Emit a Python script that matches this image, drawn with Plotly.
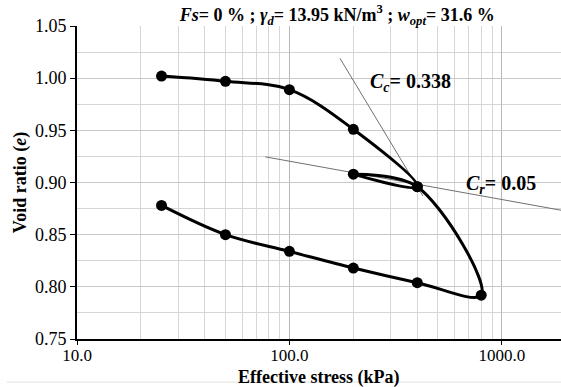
import math
import plotly.graph_objects as go

# Oedometer test sequence: load, unload-reload loop, load, full unload
stress_kpa = [25, 50, 100, 200, 400, 200, 400, 800, 400, 200, 100, 50, 25]
void_ratio = [1.002, 0.997, 0.989, 0.951, 0.896, 0.908, 0.896, 0.792,
              0.804, 0.818, 0.834, 0.850, 0.878]

# Compression index construction line (anchor, slope, extent)
cc_value = 0.338
cc_anchor = (400, 0.896)
cc_stress = [173, 425]

# Recompression construction line end points
cr_stress = [77, 1904]
cr_void = [0.9246, 0.8734]

x_tickvals = [10, 100, 1000]
x_ticktext = ["10.0", "100.0", "1000.0"]

cc_void = [cc_anchor[1] - cc_value * (math.log10(s) - math.log10(cc_anchor[0]))
           for s in cc_stress]

serif = "Liberation Serif, Times New Roman, serif"

fig = go.Figure()
fig.add_trace(go.Scatter(x=cc_stress, y=cc_void, mode="lines",
                         line=dict(color="#707070", width=1), hoverinfo="skip"))
fig.add_trace(go.Scatter(x=cr_stress, y=cr_void, mode="lines",
                         line=dict(color="#707070", width=1), hoverinfo="skip"))
fig.add_trace(go.Scatter(x=stress_kpa, y=void_ratio, mode="lines+markers",
                         line=dict(color="black", width=3, shape="spline", smoothing=1),
                         marker=dict(color="black", size=11)))

fig.update_layout(
    width=561, height=387,
    margin=dict(l=77, r=0, t=26, b=48),
    paper_bgcolor="white", plot_bgcolor="white",
    showlegend=False,
    font=dict(family=serif, color="black", size=18),
    title=dict(
        text="<b><i>Fs</i>= 0 % ; <i>γ<sub>d</sub></i>= 13.95 kN/m<sup>3</sup> ; "
             "<i>w<sub>opt</sub></i>= 31.6 %</b>",
        x=0.601, xanchor="center", y=0.962, yanchor="middle",
        font=dict(family=serif, size=18, color="black")),
    annotations=[
        dict(x=math.log10(370), y=0.9955, xref="x", yref="y",
             text="<b><i>C<sub>c</sub></i>= 0.338</b>", showarrow=False,
             font=dict(family=serif, size=20)),
        dict(x=math.log10(991), y=0.8984, xref="x", yref="y",
             text="<b><i>C<sub>r</sub></i>= 0.05</b>", showarrow=False,
             font=dict(family=serif, size=20)),
        dict(x=0.5, y=-0.123, xref="paper", yref="paper",
             xanchor="center", yanchor="middle",
             text="<b>Effective stress (kPa)</b>", showarrow=False,
             font=dict(family=serif, size=18)),
    ],
    shapes=[
        dict(type="line", xref="paper", yref="paper",
             x0=-0.145, x1=1, y0=-0.1375, y1=-0.1375,
             line=dict(color="#e2e2e2", width=1)),
    ],
)

fig.update_xaxes(
    type="log", range=[1, 3.2787],
    tickvals=x_tickvals, ticktext=x_ticktext,
    ticks="outside", ticklen=4, tickcolor="black",
    ticklabelstandoff=-4,
    showline=True, linecolor="black", linewidth=2,
    showgrid=True, gridcolor="#b8b8b8", gridwidth=1,
    minor=dict(tickvals=[v * m for v in (10, 100, 1000) for m in range(2, 10)],
               showgrid=True, gridcolor="#d6d6d6", gridwidth=1, ticks=""),
    zeroline=False,
    tickfont=dict(family=serif, size=17),
)
fig.update_yaxes(
    range=[0.75, 1.05], dtick=0.05, tickformat=".2f",
    ticks="outside", ticklen=5, tickcolor="black",
    showline=True, linecolor="black", linewidth=2,
    showgrid=True, gridcolor="#c8c8c8", gridwidth=1,
    minor=dict(dtick=0.025, showgrid=True, gridcolor="#d6d6d6", gridwidth=1, ticks=""),
    zeroline=False,
    title=dict(text="<b>Void ratio (<i>e</i>)</b>", standoff=4,
               font=dict(family=serif, size=18)),
    tickfont=dict(family=serif, size=18),
)

fig.write_html("out.html")
